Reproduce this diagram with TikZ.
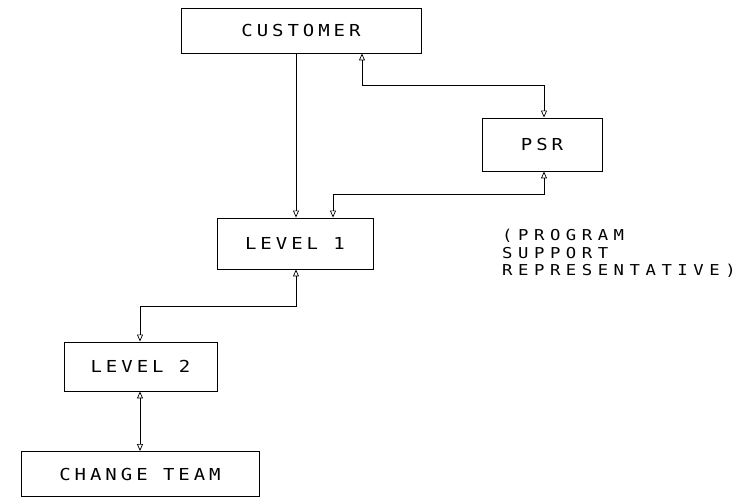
\documentclass[tikz,border=0pt]{standalone}
\usepackage{fontspec}
\usetikzlibrary{arrows.meta}
\newfontfamily\plotfont[LetterSpace=24, FakeStretch=1.15]{DejaVu Sans Mono}
\newfontfamily\notefont[LetterSpace=37, FakeStretch=1.15]{DejaVu Sans Mono}
\tikzset{opentri/.tip={Triangle[open, length=7pt, width=6pt, line width=0.7pt]}}
\begin{document}
\begin{tikzpicture}[x=1pt,y=-1pt,
  box/.style={draw, line width=0.9pt, rectangle, inner sep=0pt,
    font=\plotfont\fontsize{16.5}{18}\selectfont},
  link/.style={line width=0.8pt},
  note/.style={align=left, anchor=north west, inner sep=0pt,
    font=\notefont\fontsize{15}{17.5}\selectfont}]
\useasboundingbox (0,0) rectangle (748,497);

% boxes
\node[box, minimum width=240pt, minimum height=45pt] (cust) at (301,30.5) {CUSTOMER};
\node[box, minimum width=120pt, minimum height=53pt] (psr)  at (542,144.5) {PSR};
\node[box, minimum width=156pt, minimum height=51pt] (lvone) at (295,243.5) {LEVEL 1};
\node[box, minimum width=153pt, minimum height=49pt] (lvtwo) at (140.5,366.5) {LEVEL 2};
\node[box, minimum width=238pt, minimum height=45pt] (team) at (140,474) {CHANGE TEAM};

% explanatory note beside LEVEL 1
\node[note] (psrnote) at (502,229) {(PROGRAM\\SUPPORT\\REPRESENTATIVE)};

% connectors
\draw[link, -{opentri}] (cust.south -| 296,0) -- (lvone.north -| 296,0);
\draw[link, {opentri}-{opentri}] (cust.south -| 362,0) -- (362,85) -- (544,85) -- (psr.north -| 544,0);
\draw[link, {opentri}-{opentri}] (psr.south -| 544,0) -- (544,194) -- (333,194) -- (lvone.north -| 333,0);
\draw[link, {opentri}-{opentri}] (lvone.south -| 296,0) -- (296,306) -- (140,306) -- (lvtwo.north -| 140,0);
\draw[link, {opentri}-{opentri}] (lvtwo.south -| 140,0) -- (team.north -| 140,0);
\end{tikzpicture}
\end{document}
